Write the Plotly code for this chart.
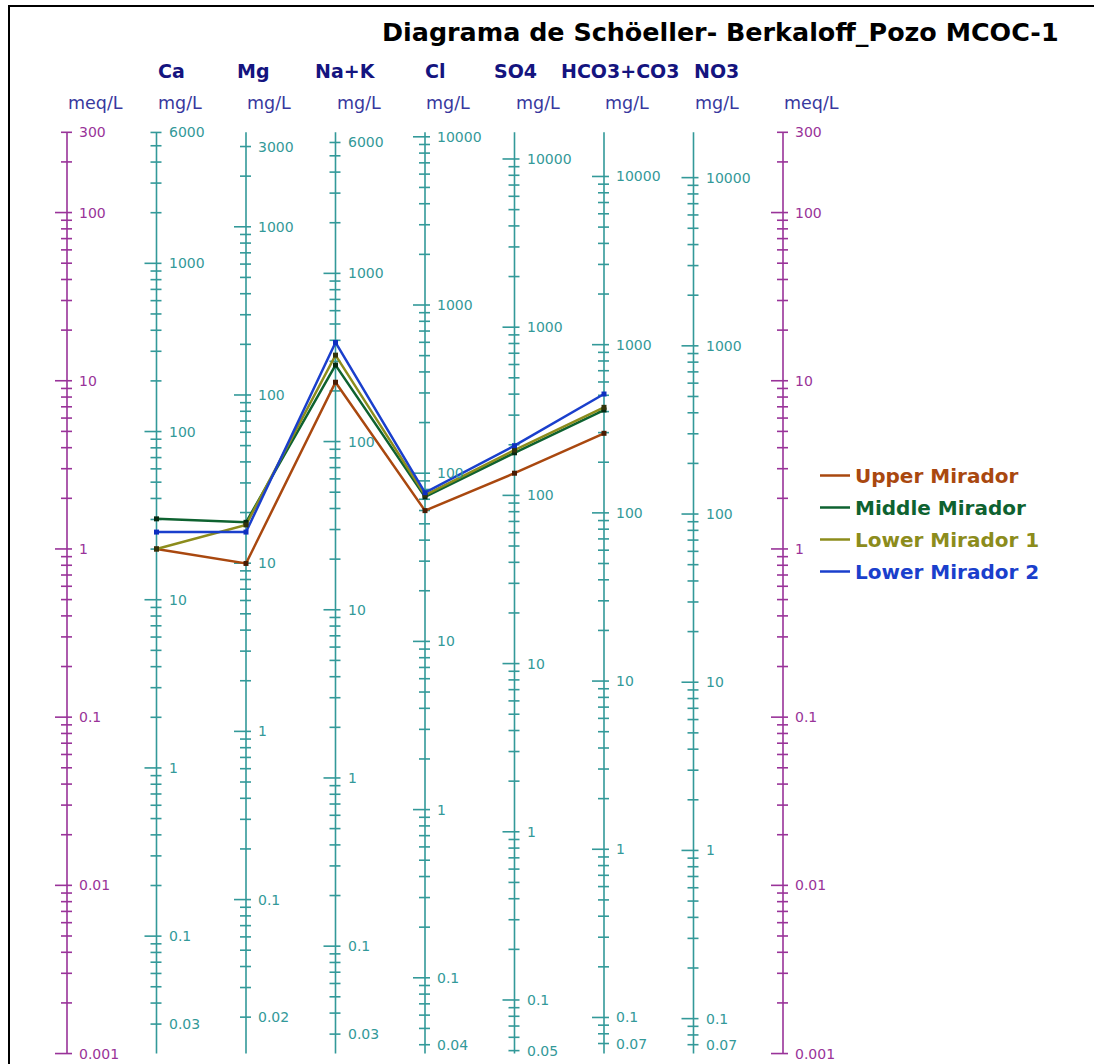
import math
import plotly.graph_objects as go

# ---------------- data ----------------
ION_AXES = ["Ca", "Mg", "Na+K", "Cl", "SO4", "HCO3+CO3", "NO3"]
EQ_WEIGHTS = [20.04, 12.15, 22.99, 35.45, 48.03, 61.02, 62.00]   # mg per meq
ION_TICK_LABELS = [
    ["6000", "1000", "100", "10", "1", "0.1", "0.03"],
    ["3000", "1000", "100", "10", "1", "0.1", "0.02"],
    ["6000", "1000", "100", "10", "1", "0.1", "0.03"],
    ["10000", "1000", "100", "10", "1", "0.1", "0.04"],
    ["10000", "1000", "100", "10", "1", "0.1", "0.05"],
    ["10000", "1000", "100", "10", "1", "0.1", "0.07"],
    ["10000", "1000", "100", "10", "1", "0.1", "0.07"],
]
MEQ_TICK_LABELS = ["300", "100", "10", "1", "0.1", "0.01", "0.001"]
MEQ_MIN, MEQ_MAX = 0.001, 300

SERIES_IONS = ["Ca", "Mg", "Na+K", "Cl", "SO4", "HCO3+CO3"]
SERIES_NAMES = ["Upper Mirador", "Middle Mirador", "Lower Mirador 1", "Lower Mirador 2"]
UPPER_MIRADOR = [1.00, 0.82, 9.8, 1.69, 2.82, 4.87]     # meq/L
MIDDLE_MIRADOR = [1.51, 1.44, 12.4, 2.04, 3.73, 6.70]
LOWER_MIRADOR_1 = [1.00, 1.39, 14.2, 2.09, 3.87, 6.95]
LOWER_MIRADOR_2 = [1.26, 1.26, 16.9, 2.16, 4.11, 8.34]
SERIES_VALUES = [UPPER_MIRADOR, MIDDLE_MIRADOR, LOWER_MIRADOR_1, LOWER_MIRADOR_2]

TITLE = "Diagrama de Schöeller- Berkaloff_Pozo MCOC-1"

# ---------------- styles / layout ----------------
LINE_COLORS = ["#A9480F", "#0E6230", "#8C8C1C", "#1A3FCC"]
MARKER_COLORS = ["#4A1C04", "#062A12", "#33330A", "#0E2FC0"]
MEQ_COLOR = "#993399"
MG_COLOR = "#339999"
HEAD_COLOR = "#14147F"
UNIT_COLOR = "#38389E"
FONT = "DejaVu Sans"

FIG_W, FIG_H = 1094, 1064
ML, MR, MT, MB = 22, 266, 127, 6
PW, PH = FIG_W - ML - MR, FIG_H - MT - MB
PX_X = 89.5          # px per axis step
AX0 = 67.0           # px of the left meq axis
PX_DEC = 168.2       # px per decade
Y300 = 132.3         # px of 300 meq/L

x0 = -(AX0 - ML) / PX_X
x1 = x0 + PW / PX_X
yhi = math.log10(MEQ_MAX) + (Y300 - MT) / PX_DEC
ylo = yhi - PH / PX_DEC

MAJOR_L, MINOR_L, TICK_R = 12, 6, 5


def paper_x(fx):
    return (fx - ML) / PW


def paper_y(fy):
    return (FIG_H - MB - fy) / PH


fig = go.Figure()
annotations = []


def add_axis(i, w, labels, color):
    xs, ys = [i, i, None], [MEQ_MIN, MEQ_MAX, None]
    for k in range(-5, 6):
        for d in range(1, 10):
            m = d * 10.0 ** k / w
            if MEQ_MIN * (1 - 1e-9) <= m <= MEQ_MAX * (1 + 1e-9):
                left = MAJOR_L if d == 1 else MINOR_L
                xs += [i - left / PX_X, i + TICK_R / PX_X, None]
                ys += [m, m, None]
    fig.add_trace(go.Scatter(x=xs, y=ys, mode="lines", showlegend=False,
                             hoverinfo="skip",
                             line=dict(color=color, width=1.6)))
    for s in labels:
        m = float(s) / w
        annotations.append(dict(x=i, y=math.log10(m), xref="x", yref="y",
                                text=s, showarrow=False, xanchor="left",
                                yanchor="middle", xshift=10,
                                font=dict(family=FONT, size=14, color=color)))


# meq/L axes (left and right)
add_axis(0, 1.0, MEQ_TICK_LABELS, MEQ_COLOR)
for j, (w, labs) in enumerate(zip(EQ_WEIGHTS, ION_TICK_LABELS)):
    add_axis(j + 1, w, labs, MG_COLOR)
add_axis(len(ION_AXES) + 1, 1.0, MEQ_TICK_LABELS, MEQ_COLOR)

# series
xpos = [ION_AXES.index(n) + 1 for n in SERIES_IONS]
for k, (name, vals) in enumerate(zip(SERIES_NAMES, SERIES_VALUES)):
    fig.add_trace(go.Scatter(
        x=xpos, y=vals, mode="lines", legendgroup=name,
        name="<b><span style='color:%s'>%s</span></b>" % (LINE_COLORS[k], name),
        line=dict(color=LINE_COLORS[k], width=2.5)))
for k, (name, vals) in enumerate(zip(SERIES_NAMES, SERIES_VALUES)):
    fig.add_trace(go.Scatter(
        x=xpos, y=vals, mode="markers", legendgroup=name, showlegend=False,
        marker=dict(symbol="square", size=5, color=MARKER_COLORS[k])))

# headings
HEAD_SHIFT = [1.5, -9, -20.5, 0, -20.5, -43, 0.5]
for j, n in enumerate(ION_AXES):
    annotations.append(dict(x=j + 1, y=paper_y(71), xref="x", yref="paper",
                            text="<b>%s</b>" % n, showarrow=False,
                            xanchor="left", yanchor="middle",
                            xshift=HEAD_SHIFT[j] - 2,
                            font=dict(family=FONT, size=19, color=HEAD_COLOR)))
for i in range(len(ION_AXES) + 2):
    unit = "meq/L" if i in (0, len(ION_AXES) + 1) else "mg/L"
    annotations.append(dict(x=i, y=paper_y(103), xref="x", yref="paper",
                            text=unit, showarrow=False, xanchor="left",
                            yanchor="middle", xshift=-1,
                            font=dict(family=FONT, size=17.5, color=UNIT_COLOR)))

annotations.append(dict(x=paper_x(1061), y=paper_y(32), xref="paper",
                        yref="paper", text="<b>%s</b>" % TITLE,
                        showarrow=False, xanchor="right", yanchor="middle",
                        font=dict(family=FONT, size=25.4, color="#000000")))

shapes = [
    dict(type="line", xref="paper", yref="paper", x0=paper_x(9), x1=paper_x(9),
         y0=paper_y(5), y1=paper_y(FIG_H), line=dict(color="black", width=2)),
    dict(type="line", xref="paper", yref="paper", x0=paper_x(8),
         x1=paper_x(FIG_W), y0=paper_y(6), y1=paper_y(6),
         line=dict(color="black", width=2)),
]

fig.update_layout(
    width=FIG_W, height=FIG_H,
    margin=dict(l=ML, r=MR, t=MT, b=MB, pad=0),
    paper_bgcolor="white", plot_bgcolor="white",
    xaxis=dict(range=[x0, x1], visible=False, fixedrange=True),
    yaxis=dict(type="log", range=[ylo, yhi], visible=False, fixedrange=True),
    annotations=annotations, shapes=shapes,
    showlegend=True,
    legend=dict(x=paper_x(815), y=paper_y(456), xanchor="left", yanchor="top",
                font=dict(family=FONT, size=20),
                bgcolor="rgba(0,0,0,0)", tracegroupgap=3, itemwidth=30),
)

fig.write_html("out.html",
               config={"displayModeBar": False},
               post_script="document.body.style.margin='0px';"
                           "document.body.style.overflow='hidden';")
